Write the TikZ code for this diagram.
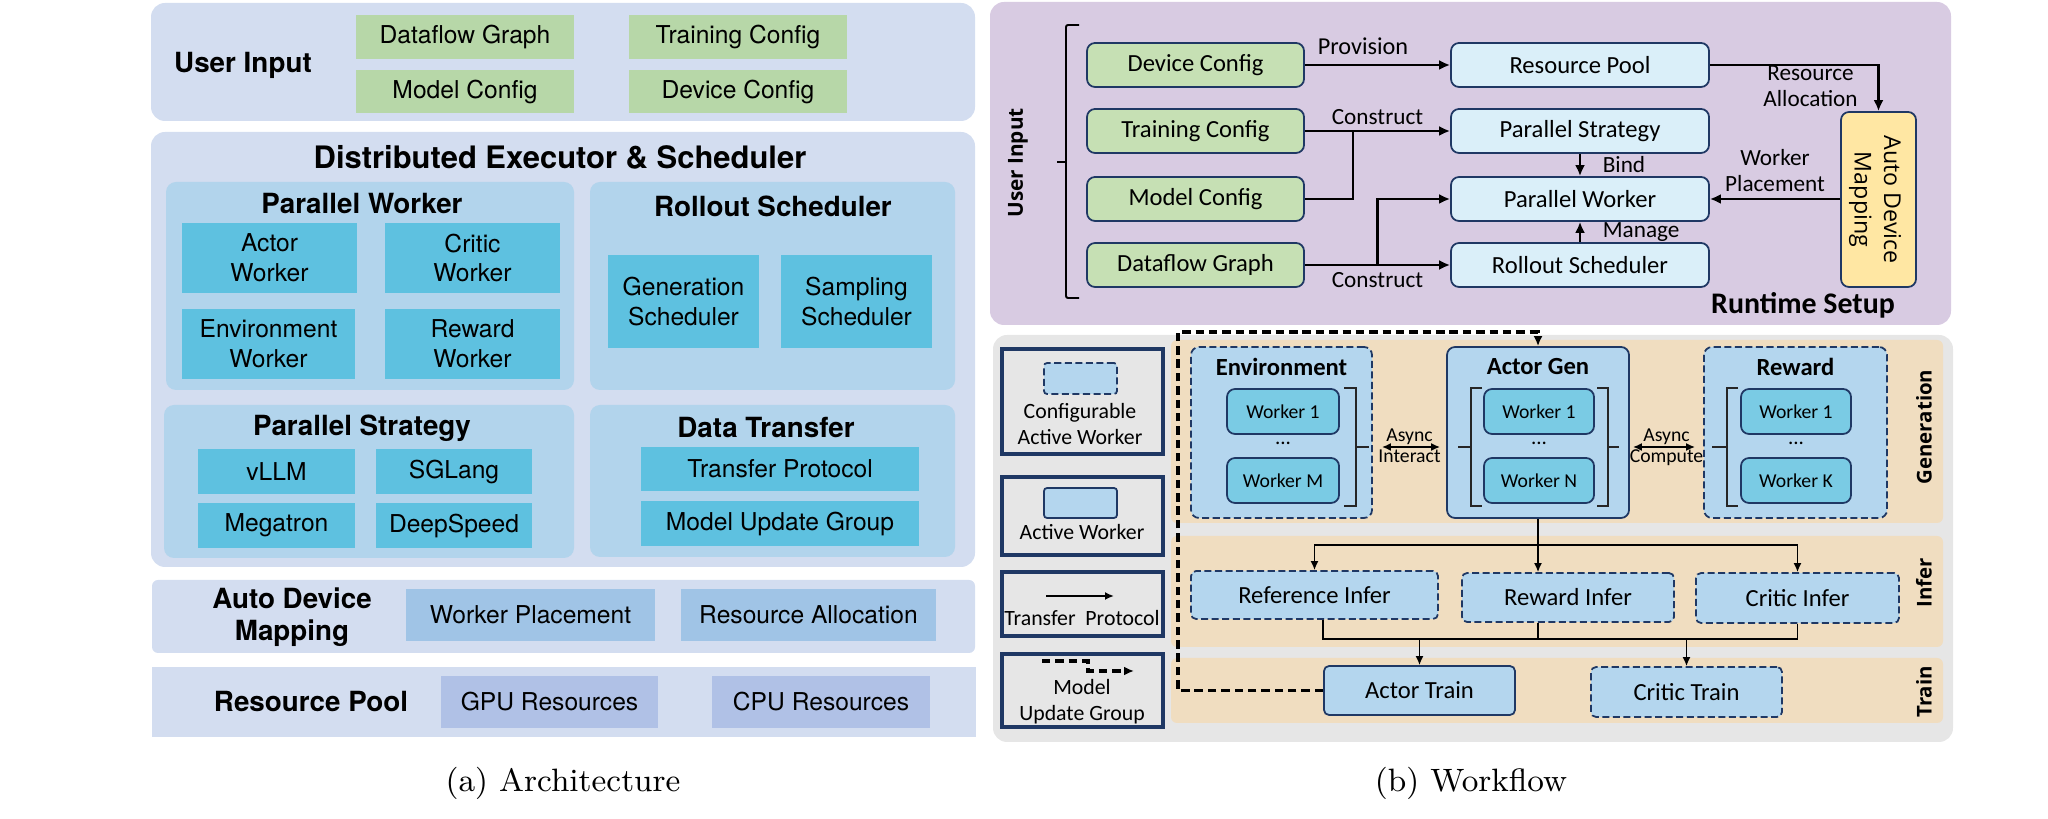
\documentclass[tikz,border=0pt]{standalone}
\usepackage{fontspec}
\usepackage{xcolor}
\usepackage{tikz}
\usetikzlibrary{arrows.meta,positioning,calc}
\newfontfamily\helv{TeX Gyre Heros}
\newfontfamily\calib{Carlito}
\newfontfamily\osans{Open Sans}
\definecolor{archback}{RGB}{211,221,240}
\definecolor{archsub}{RGB}{178,212,236}
\definecolor{architem}{RGB}{94,193,224}
\definecolor{archmap}{RGB}{160,196,230}
\definecolor{archres}{RGB}{176,193,230}
\definecolor{archgreen}{RGB}{183,215,168}
\definecolor{setupback}{RGB}{216,203,226}
\definecolor{setupgreen}{RGB}{198,224,180}
\definecolor{setupblue}{RGB}{218,239,249}
\definecolor{setupyellow}{RGB}{255,231,163}
\definecolor{flowgray}{RGB}{230,230,230}
\definecolor{flowband}{RGB}{240,221,192}
\definecolor{flowbox}{RGB}{180,214,238}
\definecolor{flowworker}{RGB}{122,203,228}
\definecolor{navy}{RGB}{31,56,100}

\begin{document}
\begin{tikzpicture}[
    x=0.01cm, y=-0.01cm,
    wh/.style 2 args={minimum width=#1*0.01cm, minimum height=#2*0.01cm},
    panel/.style={fill=archback, rounded corners=0.14cm, inner sep=0pt},
    subpanel/.style={fill=archsub, rounded corners=0.1cm, inner sep=0pt},
    atitle/.style={font=\helv\bfseries\fontsize{7.9}{9.2}\selectfont, align=center},
    aitem/.style={fill=architem, font=\helv\fontsize{7}{8.5}\selectfont, align=center, inner sep=0pt},
    sbox/.style={draw=navy, line width=0.5pt, rounded corners=0.08cm, inner sep=0pt, font=\calib\fontsize{7}{8.4}\selectfont},
    lbl/.style={font=\calib\fontsize{6.6}{7.4}\selectfont, align=center, inner sep=1pt},
    flow/.style={-{Latex[length=1.1mm,width=1mm]}, line width=0.75pt},
    fline/.style={line width=0.75pt},
    tflow/.style={-{Latex[length=0.9mm,width=0.8mm]}, line width=0.45pt},
    tline/.style={line width=0.45pt},
    wbox/.style={fill=flowbox, draw=navy, line width=0.5pt, rounded corners=0.08cm, inner sep=0pt, font=\calib\fontsize{7}{8.4}\selectfont},
    cfgbox/.style={wbox, dash pattern=on 2pt off 1pt},
    worker/.style={fill=flowworker, draw=navy, line width=0.5pt, rounded corners=0.08cm, inner sep=0pt, wh={112}{45}, font=\calib\fontsize{5.6}{6.4}\selectfont},
    wtitle/.style={font=\calib\bfseries\fontsize{7}{8.4}\selectfont},
    brk/.style={line width=0.5pt, draw=black!85},
    legend/.style={fill=flowgray, draw=navy, line width=1pt, inner sep=0pt},
    lgtext/.style={font=\calib\fontsize{6.2}{7.4}\selectfont, align=center, inner sep=0pt},
    band/.style={fill=flowband, rounded corners=0.06cm, inner sep=0pt},
    bandlbl/.style={font=\osans\bfseries\fontsize{5.8}{6.8}\selectfont, rotate=90},
    updline/.style={dash pattern=on 2.4pt off 1.4pt, line width=0.9pt, -{Latex[length=1mm,width=0.9mm]}},
    asyncl/.style={font=\calib\fontsize{5.6}{6.4}\selectfont, inner sep=0.5pt},
    caption/.style={font=\fontsize{9.2}{11}\selectfont}
]
\useasboundingbox (0,0) rectangle (2048,819);

% (a) Architecture: User Input
\node[panel, wh={824}{118}] (uipanel) at (563,62) {};
\node[atitle] (uititle) at (243,65) {User Input};
\node[aitem, fill=archgreen, wh={218}{44}] (adg) at (465,37) {Dataflow Graph};
\node[aitem, fill=archgreen, wh={218}{43}] (amc) at (465,91.5) {Model Config};
\node[aitem, fill=archgreen, wh={218}{44}] (atc) at (738,37) {Training Config};
\node[aitem, fill=archgreen, wh={218}{43}] (adc) at (738,91.5) {Device Config};

% Distributed Executor & Scheduler
\node[panel, wh={824}{435}] (dpanel) at (563,349.5) {};
\node[atitle, font=\helv\bfseries\fontsize{8.8}{10}\selectfont] (dtitle) at (560,157) {Distributed Executor \& Scheduler};
\node[subpanel, wh={408}{208}] (pwpanel) at (370,286) {};
\node[atitle] (pwtitle) at (362,204) {Parallel Worker};
\node[aitem, wh={175}{70}] (actw) at (269.5,258) {Actor\\Worker};
\node[aitem, wh={175}{70}] (critw) at (472.5,258) {Critic\\Worker};
\node[aitem, wh={173}{70}] (envw) at (268.5,344) {Environment\\Worker};
\node[aitem, wh={175}{70}] (rewW) at (472.5,344) {Reward\\Worker};
\node[subpanel, wh={365}{208}] (rspanel) at (772.5,286) {};
\node[atitle] (rstitle) at (773,206) {Rollout Scheduler};
\node[aitem, wh={151}{93}] (gens) at (683.5,301.5) {Generation\\Scheduler};
\node[aitem, wh={151}{93}] (samps) at (856.5,301.5) {Sampling\\Scheduler};
\node[subpanel, wh={410}{153}] (pspanel) at (369,481.5) {};
\node[atitle] (pstitle) at (362,428) {Parallel Strategy};
\node[aitem, wh={157}{45}] (vllm) at (276.5,471.5) {vLLM};
\node[aitem, wh={156}{45}] (sglang) at (454,471.5) {SGLang};
\node[aitem, wh={157}{45}] (megatron) at (276.5,525.5) {Megatron};
\node[aitem, wh={156}{45}] (dspeed) at (454,525.5) {DeepSpeed};
\node[subpanel, wh={365}{152}] (dtpanel) at (772.5,481) {};
\node[atitle] (dttitle) at (766,428) {Data Transfer};
\node[aitem, wh={278}{44}] (tproto) at (780,469) {Transfer Protocol};
\node[aitem, wh={278}{45}] (mugroup) at (780,523.5) {Model Update Group};

% Auto Device Mapping and Resource Pool
\node[panel, rounded corners=0.06cm, wh={823}{73}] (adpanel) at (563.5,616.5) {};
\node[atitle] (adtitle) at (292,617) {Auto Device\\Mapping};
\node[aitem, fill=archmap, wh={249}{52}] (wplace) at (530.5,615) {Worker Placement};
\node[aitem, fill=archmap, wh={255}{52}] (ralloc) at (808.5,615) {Resource Allocation};
\node[panel, rounded corners=0pt, wh={824}{70}] (rppanel) at (564,702) {};
\node[atitle] (rptitle) at (311,702) {Resource Pool};
\node[aitem, fill=archres, wh={217}{52}] (gpu) at (549.5,702) {GPU Resources};
\node[aitem, fill=archres, wh={218}{52}] (cpu) at (821,702) {CPU Resources};
\node[caption] (capa) at (563,783) {(a) Architecture};

% (b) Workflow: Runtime Setup
\node[fill=setupback, rounded corners=0.14cm, inner sep=0pt, wh={961}{323}] (rtpanel) at (1470.5,163.5) {};
\node[font=\osans\bfseries\fontsize{5.9}{6.8}\selectfont, rotate=90] (rtuser) at (1018,163) {User Input};
\draw[line width=0.55pt, rounded corners=0.02cm] (1079,25) -- (1066,25) -- (1066,298) -- (1079,298) (1066,162) -- (1057,162);
\node[sbox, fill=setupgreen, wh={217}{44}] (dc) at (1195.5,65) {Device Config};
\node[sbox, fill=setupgreen, wh={217}{44}] (tc) at (1195.5,131) {Training Config};
\node[sbox, fill=setupgreen, wh={217}{44}] (mc) at (1195.5,199) {Model Config};
\node[sbox, fill=setupgreen, wh={217}{44}] (dg) at (1195.5,265) {Dataflow Graph};
\node[sbox, fill=setupblue, wh={258}{44}] (rpool) at (1580,65) {Resource Pool};
\node[sbox, fill=setupblue, wh={258}{44}] (pstrat) at (1580,131) {Parallel Strategy};
\node[sbox, fill=setupblue, wh={258}{44}] (pwork) at (1580,199) {Parallel Worker};
\node[sbox, fill=setupblue, wh={258}{44}] (rsched) at (1580,265) {Rollout Scheduler};
\node[sbox, fill=setupyellow, wh={75}{175}] (admap) at (1878.5,199.5) {};
\node[font=\osans\fontsize{6.6}{8.4}\selectfont, rotate=-90, align=center] (admaptxt) at (1875,199.5) {Auto Device\\Mapping};
\node[font=\calib\bfseries\fontsize{8.5}{10}\selectfont] (rtsetup) at (1803,305) {Runtime Setup};

\draw[flow] (dc) -- node[lbl, above=0.05cm, pos=0.4, font=\calib\fontsize{6.9}{8}\selectfont] {Provision} (rpool);
\draw[flow] (rpool.east) -| node[lbl, pos=0.73, left=0.16cm] {Resource\\Allocation} (admap.north);
\draw[flow] (tc) -- node[lbl, above=0.01cm] {Construct} (pstrat);
\draw[fline] (mc.east) -| ($(tc.east)!0.33!(pstrat.west)$);
\draw[flow] (dg) -- node[lbl, below=0.03cm] {Construct} (rsched);
\draw[flow] ($(dg.east)!0.5!(rsched.west)$) |- (pwork.west);
\draw[flow] (pstrat) -- node[lbl, right=0.18cm] {Bind} (pwork);
\draw[flow] (rsched) -- node[lbl, right=0.18cm] {Manage} (pwork);
\draw[flow] (admap.west |- pwork.east) -- node[lbl, above=0.02cm] {Worker\\Placement} (pwork.east);

% Workflow panel, stages
\node[fill=flowgray, rounded corners=0.14cm, inner sep=0pt, wh={960}{407}] (wfpanel) at (1473,538.5) {};
\node[band, wh={772}{183}] (genband) at (1557,431.5) {};
\node[band, wh={772}{111}] (infband) at (1557,591.5) {};
\node[band, wh={772}{65}] (trband) at (1557,690.5) {};
\node[bandlbl] (genlbl) at (1924,427) {Generation};
\node[bandlbl] (inflbl) at (1924,583) {Infer};
\node[bandlbl] (trlbl) at (1924,692) {Train};

% Legend
\node[legend, wh={161}{105}] (lgcfg) at (1082.5,401.5) {};
\node[cfgbox, rounded corners=0.03cm, wh={73}{31}] (lgcfgbox) at (1080.5,378.5) {};
\node[lgtext] (lgcfgtxt) at (1080,424) {Configurable\\Active Worker};
\node[legend, wh={161}{78}] (lgact) at (1082.5,516) {};
\node[wbox, rounded corners=0.03cm, wh={73}{30}] (lgactbox) at (1080.5,503) {};
\node[lgtext] (lgacttxt) at (1082,532) {Active Worker};
\node[legend, wh={161}{64}] (lgtp) at (1082.5,604) {};
\coordinate (tpa) at (1046,596);
\coordinate (tpb) at (1114,596);
\draw[tflow, line width=0.6pt] (tpa) -- (tpb);
\node[lgtext] (lgtptxt) at (1082,618) {Transfer~~Protocol};
\node[legend, wh={161}{73}] (lgmug) at (1082.5,690.5) {};
\coordinate (mga) at (1042,661);
\coordinate (mgb) at (1088,671);
\coordinate (mgc) at (1134,671);
\draw[updline] (mga) -| (mgb) -- (mgc);
\node[lgtext] (lgmugtxt) at (1082,702) {Model\\Update Group};

% Generation
\node[cfgbox, wh={181}{171}] (env) at (1281.5,432.5) {};
\node[wtitle] (envtitle) at (1281.5,367) {Environment};
\node[worker] (envw1) at (1283,411.5) {Worker 1};
\node[font=\calib\fontsize{6}{7}\selectfont] (envdots) at (1283,443) {...};
\node[worker] (envwm) at (1283,480.5) {Worker M};
\draw[brk] (1344,388) -- (1356,388) -- (1356,506) -- (1344,506) (1356,447) -- (1369,447);

\node[wbox, wh={182}{171}] (agen) at (1538,432.5) {};
\node[wtitle] (agentitle) at (1538,367) {Actor Gen};
\node[worker, wh={110}{45}] (agenw1) at (1539,411.5) {Worker 1};
\node[font=\calib\fontsize{6}{7}\selectfont] (agendots) at (1539,443) {...};
\node[worker, wh={110}{45}] (agenwn) at (1539,480.5) {Worker N};
\draw[brk] (1482,388) -- (1471,388) -- (1471,506) -- (1482,506) (1471,447) -- (1458,447);
\draw[brk] (1597,388) -- (1608,388) -- (1608,506) -- (1597,506) (1608,447) -- (1619,447);

\node[cfgbox, wh={183}{171}] (rew) at (1795.5,432.5) {};
\node[wtitle] (rewtitle) at (1795.5,367) {Reward};
\node[worker, wh={110}{45}] (reww1) at (1796,411.5) {Worker 1};
\node[font=\calib\fontsize{6}{7}\selectfont] (rewdots) at (1796,443) {...};
\node[worker, wh={110}{45}] (rewwk) at (1796,480.5) {Worker K};
\draw[brk] (1738,388) -- (1727,388) -- (1727,506) -- (1738,506) (1727,447) -- (1712,447);

\coordinate (lvl) at (0,447);
\draw[{Latex[length=0.9mm,width=0.8mm]}-{Latex[length=0.9mm,width=0.8mm]}, line width=0.6pt, shorten <=0.09cm, shorten >=0.06cm] (env.east |- lvl) -- node[asyncl, above] {Async} node[asyncl, below] {Interact} (agen.west |- lvl);
\draw[{Latex[length=0.9mm,width=0.8mm]}-{Latex[length=0.9mm,width=0.8mm]}, line width=0.6pt, shorten <=0.03cm, shorten >=0.08cm] (agen.east |- lvl) -- node[asyncl, above] {Async} node[asyncl, below] {Compute} (rew.west |- lvl);

% Infer
\node[cfgbox, rounded corners=0.05cm, wh={247}{48}] (refinf) at (1314.5,595) {Reference Infer};
\node[cfgbox, rounded corners=0.05cm, wh={212}{49}] (rwinf) at (1568,597.5) {Reward Infer};
\node[cfgbox, rounded corners=0.05cm, wh={203}{50}] (crinf) at (1797.5,598) {Critic Infer};
\coordinate (split) at (1538,545);
\draw[tflow] (agen.south) -- (rwinf.north -| agen.south);
\draw[tflow] (split) -| (refinf.north);
\draw[tflow] (split) -| (crinf.north);

% Train
\node[wbox, rounded corners=0.05cm, wh={191}{49}] (atrain) at (1419.5,690.5) {Actor Train};
\node[cfgbox, rounded corners=0.05cm, wh={191}{50}] (ctrain) at (1686.5,692) {Critic Train};
\coordinate (mrg) at (1538,639);
\draw[tline] (refinf.south -| atrain.west) |- (mrg) -| (crinf.south);
\draw[tline] (rwinf.south -| mrg) -- (mrg);
\draw[tflow] (atrain.north |- mrg) -- (atrain.north);
\draw[tflow] (ctrain.north |- mrg) -- (ctrain.north);

% Model Update Group
\coordinate (updcorner) at (1178,332);
\draw[updline] (atrain.west) -| (updcorner) -| (agen.north);

\node[caption] (capb) at (1471,783) {(b) Workflow};
\end{tikzpicture}
\end{document}
